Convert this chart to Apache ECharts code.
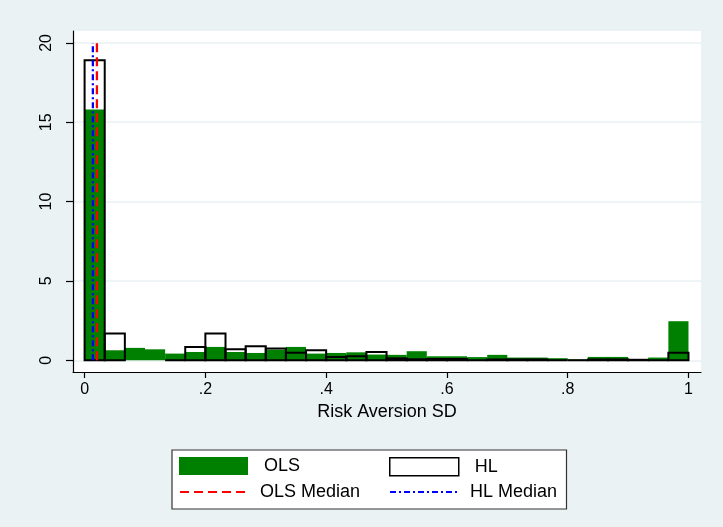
<!DOCTYPE html>
<html>
<head>
<meta charset="utf-8">
<script src="https://cdn.jsdelivr.net/npm/echarts@6/dist/echarts.min.js"></script>
<style>
  html, body { margin: 0; padding: 0; background: #EAF2F3; }
  #chart { width: 723px; height: 527px; }
</style>
</head>
<body>
<div id="chart"></div>
<script>
// Histogram of the risk-aversion standard deviation: 30 equal-width bins on [0, 1]
const binCount = 30;
const binLow = 0;
const binHigh = 1;

// Density per bin (OLS estimates)
const olsDensity = [15.8, 0.63, 0.78, 0.69, 0.42, 0.52, 0.84, 0.52, 0.46, 0.67,
                    0.84, 0.42, 0.46, 0.50, 0.36, 0.34, 0.57, 0.25, 0.25, 0.20,
                    0.34, 0.17, 0.17, 0.13, 0.05, 0.21, 0.21, 0.00, 0.17, 2.46];
// Density per bin (HL estimates); null = no bar drawn
const hlDensity = [18.9, 1.68, null, null, 0.00, 0.84, 1.68, 0.69, 0.88, 0.74,
                   0.48, 0.63, 0.21, 0.25, 0.52, 0.12, 0.06, 0.08, 0.08, 0.00,
                   0.05, 0.05, 0.05, 0.00, 0.00, 0.05, 0.05, 0.03, 0.00, 0.48];

// Medians of the two distributions
const olsMedian = 0.0204;
const hlMedian = 0.0137;
const medianTop = 20;

// Axis ticks and labels
const xTicks = [0, 0.2, 0.4, 0.6, 0.8, 1];
const xTickLabels = ['0', '.2', '.4', '.6', '.8', '1'];
const yTicks = [0, 5, 10, 15, 20];

const FONT = "'Liberation Sans', Arial, Helvetica, sans-serif";
const binWidth = (binHigh - binLow) / binCount;

function toBins(values) {
  const out = [];
  values.forEach((v, i) => {
    if (v === null) return;
    out.push([binLow + i * binWidth, binLow + (i + 1) * binWidth, v]);
  });
  return out;
}

function barShape(api) {
  const top = api.coord([api.value(0), api.value(2)]);
  const base = api.coord([api.value(1), 0]);
  return { x: top[0], y: top[1], width: base[0] - top[0], height: base[1] - top[1] };
}

const chart = echarts.init(document.getElementById('chart'), null, { renderer: 'canvas' });

const legendBase = {
  orient: 'horizontal',
  padding: 0,
  itemWidth: 69,
  itemHeight: 18,
  selectedMode: false
};
const legendText = (padLeft) => ({
  fontFamily: FONT, fontSize: 18, color: '#000', padding: [0, 0, 0, padLeft]
});

chart.setOption({
  backgroundColor: '#EAF2F3',
  animation: false,
  textStyle: { fontFamily: FONT },
  grid: {
    left: 73, right: 22, top: 31, bottom: 155,
    show: true, backgroundColor: '#ffffff', borderWidth: 0
  },
  xAxis: {
    type: 'value',
    min: -0.0192,
    max: 1.0207,
    name: 'Risk Aversion SD',
    nameLocation: 'middle',
    nameGap: 28,
    nameTextStyle: { fontFamily: FONT, fontSize: 18, color: '#000' },
    axisLine: { show: true, onZero: false, lineStyle: { color: '#000', width: 1.2 } },
    axisTick: { show: true, customValues: xTicks, length: 6, lineStyle: { color: '#000', width: 1.2 } },
    axisLabel: {
      customValues: xTicks,
      margin: 10,
      fontFamily: FONT, fontSize: 16, color: '#000',
      formatter: (v) => {
        let best = 0;
        xTicks.forEach((t, i) => { if (Math.abs(t - v) < Math.abs(xTicks[best] - v)) best = i; });
        return xTickLabels[best];
      }
    },
    splitLine: { show: false }
  },
  yAxis: {
    type: 'value',
    min: -0.74,
    max: 20.75,
    axisLine: { show: true, onZero: false, lineStyle: { color: '#000', width: 1.2 } },
    axisTick: { show: true, customValues: yTicks, length: 7, lineStyle: { color: '#000', width: 1.2 } },
    axisLabel: {
      customValues: yTicks,
      rotate: 90,
      margin: 18,
      fontFamily: FONT, fontSize: 16, color: '#000',
      formatter: (v) => String(Math.round(v))
    },
    splitLine: { show: true, lineStyle: { color: '#EAF2F3', width: 1.5 } }
  },
  legend: [
    Object.assign({}, legendBase, {
      left: 179, top: 457,
      data: [{ name: 'OLS', icon: 'rect', itemStyle: { color: '#008000' } }],
      textStyle: legendText(11)
    }),
    Object.assign({}, legendBase, {
      left: 389, top: 457,
      data: [{ name: 'HL', icon: 'rect', itemStyle: { color: '#ffffff', borderColor: '#000', borderWidth: 1.5 } }],
      textStyle: legendText(11)
    }),
    Object.assign({}, legendBase, {
      left: 179, top: 483,
      data: [{ name: 'OLS Median', itemStyle: { opacity: 0 } }],
      textStyle: legendText(6)
    }),
    Object.assign({}, legendBase, {
      left: 389, top: 483,
      data: [{ name: 'HL Median', itemStyle: { opacity: 0 } }],
      textStyle: legendText(6)
    })
  ],
  graphic: [{
    type: 'rect',
    silent: true,
    z: -1,
    shape: { x: 172, y: 450, width: 394.5, height: 59 },
    style: { fill: '#ffffff', stroke: '#333', lineWidth: 1.2 }
  }],
  series: [
    {
      name: 'OLS',
      type: 'custom',
      clip: true,
      z: 2,
      itemStyle: { color: '#008000' },
      encode: { x: [0, 1], y: 2 },
      data: toBins(olsDensity),
      renderItem: (params, api) => ({
        type: 'rect',
        shape: barShape(api),
        style: { fill: '#008000' }
      })
    },
    {
      name: 'HL',
      type: 'custom',
      clip: true,
      z: 3,
      itemStyle: { color: '#ffffff', borderColor: '#000', borderWidth: 1.5 },
      encode: { x: [0, 1], y: 2 },
      data: toBins(hlDensity),
      renderItem: (params, api) => ({
        type: 'rect',
        shape: barShape(api),
        style: { fill: null, stroke: '#000', lineWidth: 2 }
      })
    },
    {
      name: 'OLS Median',
      type: 'line',
      z: 4,
      symbol: 'none',
      symbolSize: 0,
      data: [[olsMedian, 0], [olsMedian, medianTop]],
      lineStyle: { color: '#ff0000', width: 2.3, type: [9, 5] },
      itemStyle: { color: '#ff0000' }
    },
    {
      name: 'HL Median',
      type: 'line',
      z: 5,
      symbol: 'none',
      symbolSize: 0,
      data: [[hlMedian, 0], [hlMedian, medianTop]],
      lineStyle: { color: '#0000ff', width: 2.3, type: [6, 3, 2, 3] },
      itemStyle: { color: '#0000ff' }
    }
  ]
});
</script>
</body>
</html>
